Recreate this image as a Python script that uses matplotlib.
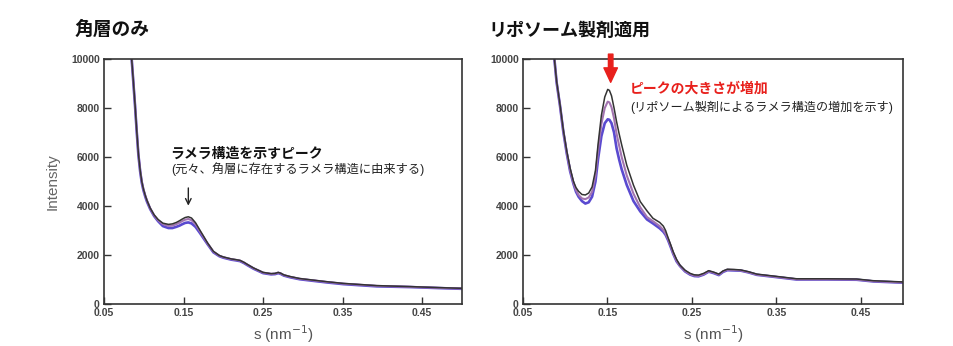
import matplotlib
matplotlib.use('Agg')
import matplotlib.pyplot as plt

plt.rcParams['font.family'] = ['Liberation Sans', 'Noto Sans CJK JP']

# ── Data ──────────────────────────────────────────────────────────────────────
# left panel: stratum corneum only
s_left = [0.083, 0.0848, 0.087, 0.089, 0.091, 0.0932, 0.0955, 0.0975, 0.0995,
          0.102, 0.104, 0.108, 0.113, 0.118, 0.124, 0.131, 0.136, 0.141,
          0.145, 0.148, 0.152, 0.156, 0.16, 0.165, 0.171, 0.176, 0.18,
          0.1875, 0.195, 0.2, 0.21, 0.216, 0.221, 0.226, 0.23, 0.238, 0.25,
          0.26, 0.265, 0.269, 0.272, 0.276, 0.284, 0.296, 0.309, 0.33,
          0.351, 0.393, 0.435, 0.47, 0.5]
left_black = [11000, 10000, 9050, 8150, 7150, 6150, 5450, 5000, 4700,
              4420, 4230, 3920, 3640, 3450, 3300, 3250, 3270, 3330,
              3400, 3460, 3530, 3560, 3510, 3320, 2990, 2720, 2500,
              2150, 1980, 1920, 1840, 1810, 1780, 1700, 1620, 1470, 1290,
              1240, 1250, 1290, 1260, 1190, 1120, 1040, 990, 910,
              840, 750, 710, 670, 640]
left_mauve = [11000, 10000, 9050, 8150, 7150, 6150, 5450, 5000, 4700,
              4420, 4230, 3910, 3620, 3420, 3260, 3190, 3200, 3260,
              3320, 3380, 3440, 3470, 3420, 3260, 2950, 2690, 2480,
              2140, 1970, 1910, 1830, 1800, 1770, 1690, 1610, 1460, 1280,
              1230, 1240, 1280, 1250, 1180, 1110, 1030, 980, 900,
              830, 740, 700, 660, 630]
left_blue = [11000, 10000, 9000, 8100, 7100, 6100, 5400, 4950, 4650,
             4370, 4180, 3880, 3590, 3380, 3180, 3100, 3100, 3150,
             3200, 3250, 3310, 3330, 3290, 3150, 2880, 2640, 2450,
             2110, 1950, 1890, 1810, 1780, 1750, 1670, 1590, 1440, 1260,
             1210, 1220, 1260, 1230, 1160, 1090, 1010, 960, 880,
             810, 720, 690, 650, 620]

# right panel: liposome formulation applied
s_right = [0.086, 0.0874, 0.09, 0.094, 0.098, 0.102, 0.106, 0.110, 0.113,
           0.116, 0.120, 0.124, 0.128, 0.132, 0.136, 0.139, 0.143, 0.147,
           0.1505, 0.1525, 0.155, 0.158, 0.161, 0.164, 0.167, 0.173, 0.181,
           0.189, 0.197, 0.204, 0.212, 0.2163, 0.219, 0.222, 0.225, 0.228,
           0.232, 0.236, 0.242, 0.248, 0.253, 0.258, 0.264, 0.27, 0.276,
           0.282, 0.287, 0.292, 0.3, 0.308, 0.317, 0.327, 0.347, 0.374,
           0.41, 0.445, 0.465, 0.5]
right_black = [10800, 10000, 9100, 8150, 7100, 6250, 5550, 5000, 4750,
               4600, 4470, 4450, 4530, 4780, 5450, 6500, 7700, 8450,
               8760, 8720, 8500, 8000, 7440, 6950, 6500, 5670, 4850,
               4180, 3800, 3500, 3330, 3180, 3000, 2700, 2420, 2130,
               1820, 1590, 1380, 1250, 1190, 1180, 1250, 1360, 1300,
               1220, 1350, 1420, 1410, 1390, 1320, 1220, 1140, 1030,
               1030, 1020, 950, 900]
right_mauve = [10800, 10000, 9080, 8120, 7060, 6200, 5480, 4950, 4650,
               4450, 4310, 4280, 4350, 4580, 5250, 6250, 7350, 8000,
               8260, 8230, 8030, 7580, 6950, 6470, 6000, 5250, 4500,
               3950, 3550, 3380, 3180, 3020, 2870, 2650, 2380, 2080,
               1770, 1560, 1350, 1220, 1160, 1150, 1220, 1340, 1280,
               1200, 1330, 1400, 1390, 1370, 1300, 1200, 1120, 1010,
               1010, 1000, 930, 880]
right_blue = [10800, 10000, 9050, 8100, 7020, 6150, 5420, 4900, 4580,
              4380, 4200, 4100, 4150, 4380, 5000, 5900, 6850, 7380,
              7540, 7520, 7380, 7000, 6350, 5900, 5500, 4860, 4200,
              3780, 3450, 3290, 3090, 2950, 2820, 2600, 2330, 2050,
              1740, 1550, 1330, 1200, 1140, 1130, 1200, 1320, 1260,
              1180, 1310, 1380, 1370, 1360, 1290, 1190, 1110, 1000,
              1000, 990, 920, 870]

x_ticks = [0.05, 0.15, 0.25, 0.35, 0.45]
y_ticks = [0, 2000, 4000, 6000, 8000, 10000]

C_BLACK = '#333333'
C_MAUVE = '#a274b0'
C_BLUE = '#5a4ad0'
C_RED = '#e8201c'

# ── Figure ────────────────────────────────────────────────────────────────────
fig = plt.figure(figsize=(9.54, 3.46), dpi=100)
ax_l = fig.add_axes([0.109, 0.1214, 0.3753, 0.708])
ax_r = fig.add_axes([0.548, 0.1214, 0.3986, 0.708])

panels = [
    (ax_l, s_left, left_blue, left_mauve, left_black),
    (ax_r, s_right, right_blue, right_mauve, right_black),
]
for ax, s, yb, ym, yk in panels:
    ax.plot(s, yb, color=C_BLUE, lw=1.9, solid_joinstyle='round')
    ax.plot(s, ym, color=C_MAUVE, lw=1.5, solid_joinstyle='round')
    ax.plot(s, yk, color=C_BLACK, lw=1.1, solid_joinstyle='round')
    ax.set_xlim(0.05, 0.5)
    ax.set_ylim(0, 10000)
    ax.set_xticks(x_ticks)
    ax.set_xticklabels([f'{v:.2f}' for v in x_ticks])
    ax.set_yticks(y_ticks)
    ax.set_yticklabels([str(v) for v in y_ticks])
    ax.tick_params(direction='in', length=5, width=1, color='#333333',
                   labelsize=7.5, labelcolor='#444444', pad=3)
    for lab in ax.get_xticklabels() + ax.get_yticklabels():
        lab.set_fontweight('bold')
    for sp in ax.spines.values():
        sp.set_color('#333333')
        sp.set_linewidth(1.2)
    ax.set_xlabel('s (nm$^{-1}$)', fontsize=11, color='#555555', labelpad=4)

ax_l.set_ylabel('Intensity', fontsize=11, color='#666666', labelpad=8)

# titles
fig.text(75 / 954, 1 - 30 / 346, '角層のみ', fontsize=13.5, fontweight='bold',
         ha='left', va='center', color='#111111')
fig.text(488 / 954, 1 - 31 / 346, 'リポソーム製剤適用', fontsize=13,
         fontweight='bold', ha='left', va='center', color='#111111')

# left annotation
ax_l.text(0.1335, 6130, 'ラメラ構造を示すピーク', fontsize=10, fontweight='bold',
          ha='left', va='center', color='#111111')
ax_l.text(0.134, 5520, '(元々、角層に存在するラメラ構造に由来する)', fontsize=8.8,
          ha='left', va='center', color='#222222')
ax_l.annotate('', xy=(0.156, 3900), xytext=(0.156, 4850),
              arrowprops=dict(arrowstyle='->', color='#222222', lw=1.0))

# right annotation
ax_r.annotate('', xy=(0.154, 9050), xytext=(0.154, 10200),
              arrowprops=dict(arrowstyle='simple,head_width=0.75,head_length=0.8,tail_width=0.25',
                              color=C_RED, mutation_scale=13,
                              shrinkA=0, shrinkB=0),
              annotation_clip=False)
ax_r.text(0.177, 8800, 'ピークの大きさが増加', fontsize=10, fontweight='bold',
          ha='left', va='center', color=C_RED)
ax_r.text(0.177, 8030, '(リポソーム製剤によるラメラ構造の増加を示す)', fontsize=8.7,
          ha='left', va='center', color='#222222')

fig.savefig('out.png', dpi=100)
